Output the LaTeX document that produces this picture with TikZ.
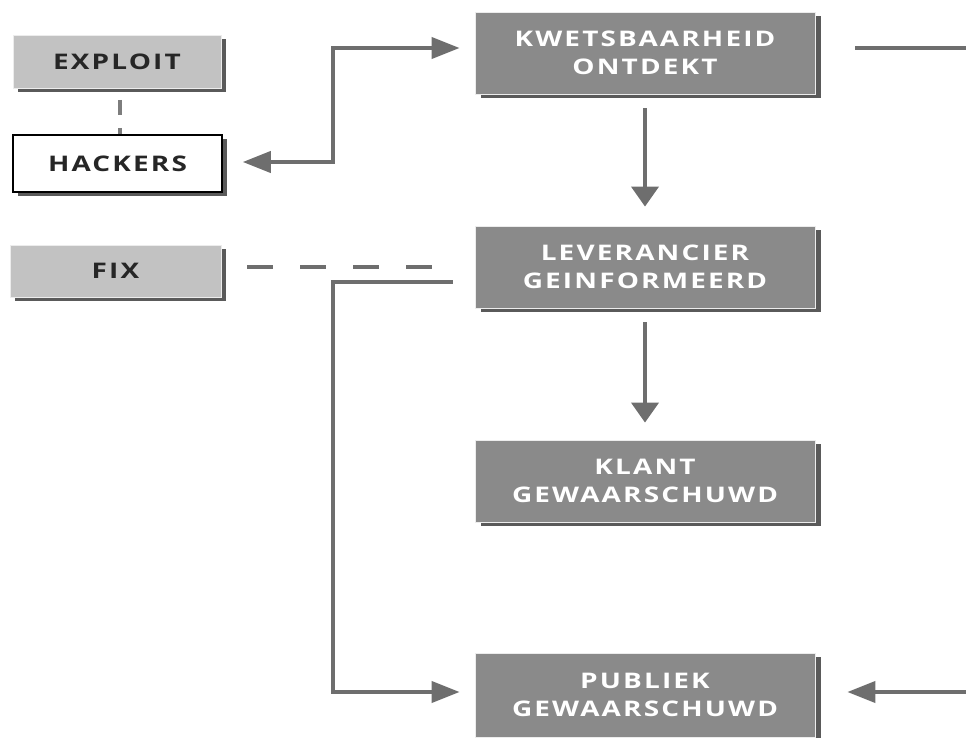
\documentclass[tikz,border=0pt]{standalone}
\usepackage{fontspec}
\setmainfont{Open Sans}[FakeStretch=1.3, LetterSpace=10]
\usetikzlibrary{arrows.meta,shadows}
\definecolor{boxgray}{HTML}{8A8A8A}
\definecolor{lightgray}{HTML}{C2C2C2}
\definecolor{shadowgray}{HTML}{5A5A5A}
\definecolor{linegray}{HTML}{6E6E6E}
\tikzset{
  stage/.style={draw=white!85!gray, line width=0.8pt, fill=boxgray,
    text=white, minimum width=340pt, minimum height=82pt,
    font=\fontsize{21.5}{28}\selectfont\bfseries, align=center,
    drop shadow={shadow xshift=6pt, shadow yshift=-4pt, fill=shadowgray, opacity=1}},
  sidebox/.style={draw=white!85!gray, line width=0.8pt, fill=lightgray,
    text=black!85, minimum width=208pt, minimum height=53pt,
    font=\fontsize{21.5}{28}\selectfont\bfseries, align=center,
    drop shadow={shadow xshift=5pt, shadow yshift=-4pt, fill=shadowgray, opacity=1}},
  plainbox/.style={sidebox, draw=black, line width=1.6pt, fill=white},
  flow/.style={draw=linegray, line width=4pt},
  harrow/.style={-{Triangle[length=28pt,width=21pt]}},
  varrow/.style={-{Triangle[length=20pt,width=27pt]}},
  dashes/.style={flow, dash pattern=on 26pt off 27pt},
}
\begin{document}
\begin{tikzpicture}[x=1pt,y=-1pt]
\useasboundingbox (0,0) rectangle (966,738);

% process stages
\node[stage] (kw)  at (645,53)  {KWETSBAARHEID\\ONTDEKT};
\node[stage] (lev) at (645,267) {LEVERANCIER\\GEINFORMEERD};
\node[stage] (kl)  at (645,481) {KLANT\\GEWAARSCHUWD};
\node[stage, minimum height=84pt] (pub) at (645,695) {PUBLIEK\\GEWAARSCHUWD};

% side items
\node[sidebox] (ex) at (117,61.5) {EXPLOIT};
\node[plainbox, minimum width=209pt, minimum height=57pt] (hk) at (117.5,163.5) {HACKERS};
\node[sidebox, minimum width=211pt, minimum height=52pt] (fix) at (115.5,271) {FIX};

% junction points
\coordinate (j1) at (333,48);
\coordinate (j2) at (333,282);
\coordinate (e1) at (966,48);
\coordinate (e2) at (966,692);
\coordinate (f1) at (435,267);

% hackers <-> discovery
\draw[flow, {Triangle[length=28pt,width=21pt]}-{Triangle[length=28pt,width=21pt]}]
  ([xshift=20pt,yshift=1.5pt]hk.east) -| (j1) -- ([xshift=-15pt,yshift=5pt]kw.west);
\draw[flow] ([xshift=40pt,yshift=5pt]kw.east) -- (e1);

% main sequence
\draw[flow, varrow] ([yshift=-14pt]kw.south) -- ([yshift=19pt]lev.north);
\draw[flow, varrow] ([yshift=-14pt]lev.south) -- ([yshift=17pt]kl.north);

% fix link and publication
\draw[dashes] ([xshift=26pt,yshift=4pt]fix.east) -- (f1);
\draw[flow, harrow] ([xshift=-22pt,yshift=-15pt]lev.west) -- (j2) |- ([xshift=-15pt,yshift=3pt]pub.west);
\draw[flow, harrow] (e2) -- ([xshift=32pt,yshift=3pt]pub.east);

% exploit used by hackers
\draw[flow, draw=linegray!90, dash pattern=on 15pt off 13pt] (120,100) -- (hk.north -| 120,100);
\end{tikzpicture}
\end{document}
